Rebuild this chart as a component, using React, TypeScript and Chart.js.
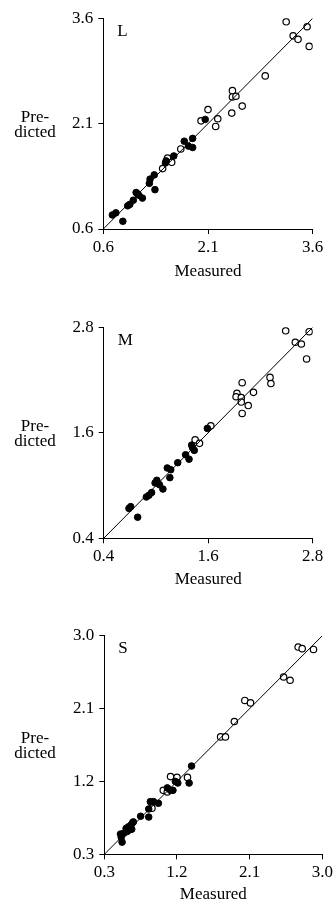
import React, { useEffect, useRef } from "react";
import { Chart, registerables } from "chart.js";

Chart.register(...registerables);

// ---------- Data ----------
// Panel L
const L_TICKS = [0.6, 2.1, 3.6];
const L_OPEN_MEASURED = [3.22, 3.32, 3.39, 3.52, 3.55, 2.92, 2.45, 2.45, 2.5, 2.59, 2.44, 2.1, 2.24, 2.21, 2.0, 1.71, 1.52, 1.58, 1.45];
const L_OPEN_PREDICTED = [3.55, 3.35, 3.3, 3.48, 3.2, 2.78, 2.57, 2.48, 2.49, 2.35, 2.25, 2.3, 2.17, 2.06, 2.14, 1.74, 1.61, 1.55, 1.46];
const L_FILLED_MEASURED = [2.06, 1.88, 1.76, 1.82, 1.88, 1.61, 1.49, 1.5, 1.33, 1.27, 1.26, 1.34, 1.07, 1.11, 1.16, 1.03, 1.09, 0.98, 0.95, 0.78, 0.73, 0.88];
const L_FILLED_PREDICTED = [2.16, 1.89, 1.85, 1.78, 1.76, 1.64, 1.54, 1.57, 1.37, 1.31, 1.25, 1.16, 1.12, 1.08, 1.04, 1.01, 1.1, 0.95, 0.93, 0.83, 0.8, 0.71];

// Panel M
const M_TICKS = [0.4, 1.6, 2.8];
const M_OPEN_MEASURED = [2.49, 2.6, 2.67, 2.76, 2.73, 2.31, 2.32, 1.99, 2.12, 1.93, 1.92, 1.98, 1.98, 2.06, 1.99, 1.63, 1.45, 1.5];
const M_OPEN_PREDICTED = [2.76, 2.63, 2.61, 2.75, 2.44, 2.23, 2.16, 2.17, 2.06, 2.05, 2.01, 2.0, 1.95, 1.91, 1.82, 1.68, 1.52, 1.48];
const M_FILLED_MEASURED = [1.59, 1.41, 1.42, 1.44, 1.34, 1.38, 1.25, 1.13, 1.17, 1.16, 1.01, 0.99, 1.04, 1.08, 0.95, 0.92, 0.89, 0.71, 0.69, 0.79];
const M_FILLED_PREDICTED = [1.65, 1.46, 1.43, 1.4, 1.35, 1.3, 1.26, 1.2, 1.18, 1.09, 1.06, 1.03, 1.01, 0.96, 0.92, 0.89, 0.87, 0.76, 0.74, 0.64];

// Panel S
const S_TICKS = [0.3, 1.2, 2.1, 3.0];
const S_OPEN_MEASURED = [2.7, 2.75, 2.89, 2.52, 2.6, 2.04, 2.11, 1.91, 1.74, 1.8, 1.12, 1.2, 1.33, 1.03, 1.08, 0.89];
const S_OPEN_PREDICTED = [2.86, 2.84, 2.83, 2.49, 2.45, 2.2, 2.17, 1.94, 1.75, 1.75, 1.26, 1.25, 1.25, 1.09, 1.07, 0.87];
const S_FILLED_MEASURED = [1.38, 1.35, 1.21, 1.18, 1.08, 1.12, 1.15, 0.97, 0.87, 0.91, 0.85, 0.85, 0.75, 0.65, 0.63, 0.6, 0.64, 0.61, 0.57, 0.54, 0.5, 0.51, 0.52, 0.58, 0.66];
const S_FILLED_PREDICTED = [1.39, 1.18, 1.18, 1.2, 1.12, 1.09, 1.09, 0.93, 0.95, 0.95, 0.86, 0.76, 0.77, 0.69, 0.66, 0.64, 0.61, 0.6, 0.62, 0.56, 0.55, 0.51, 0.45, 0.58, 0.7];

const PANEL_LABELS = ["L", "M", "S"];
const X_TITLE = "Measured";
const Y_TITLE = ["Pre-", "dicted"];

// ---------- Styling / layout ----------
const FONT = "'Liberation Serif', 'Times New Roman', serif";
const FONT_SIZE = 17;

type Panel = {
  label: string;
  ticks: number[];
  openX: number[];
  openY: number[];
  filledX: number[];
  filledY: number[];
  top: number;
  height: number;
  areaLeft: number;
  areaRight: number;
  areaTop: number;
  areaBottom: number;
  titleCenter: number;
};

const zip = (xs: number[], ys: number[]) => xs.map((x, i) => ({ x, y: ys[i] }));

const PANELS: Panel[] = [
  { label: PANEL_LABELS[0], ticks: L_TICKS, openX: L_OPEN_MEASURED, openY: L_OPEN_PREDICTED, filledX: L_FILLED_MEASURED, filledY: L_FILLED_PREDICTED,
    top: 0, height: 300, areaLeft: 103.3, areaRight: 312.7, areaTop: 18.3, areaBottom: 229, titleCenter: 272 },
  { label: PANEL_LABELS[1], ticks: M_TICKS, openX: M_OPEN_MEASURED, openY: M_OPEN_PREDICTED, filledX: M_FILLED_MEASURED, filledY: M_FILLED_PREDICTED,
    top: 300, height: 300, areaLeft: 103.7, areaRight: 312.7, areaTop: 27.3, areaBottom: 238.3, titleCenter: 280 },
  { label: PANEL_LABELS[2], ticks: S_TICKS, openX: S_OPEN_MEASURED, openY: S_OPEN_PREDICTED, filledX: S_FILLED_MEASURED, filledY: S_FILLED_PREDICTED,
    top: 600, height: 305, areaLeft: 104.3, areaRight: 322.7, areaTop: 35.7, areaBottom: 254.3, titleCenter: 299 },
];

const textPlugin = {
  id: "panelText",
  afterDraw(chart: any, _args: any, opts: any) {
    const { ctx, chartArea } = chart;
    ctx.save();
    ctx.fillStyle = "#000";
    ctx.font = `${FONT_SIZE}px ${FONT}`;
    ctx.textAlign = "center";
    ctx.textBaseline = "middle";
    const mid = (chartArea.top + chartArea.bottom) / 2 + 1.5;
    ctx.fillText(Y_TITLE[0], 35, mid - 7.5);
    ctx.fillText(Y_TITLE[1], 35, mid + 7.5);
    ctx.textAlign = "left";
    ctx.fillText(opts.label, chartArea.left + 14, chartArea.top + 13);
    ctx.restore();
  },
};

function PanelChart({ p }: { p: Panel }) {
  const ref = useRef<HTMLCanvasElement | null>(null);
  useEffect(() => {
    if (!ref.current) return;
    const min = p.ticks[0];
    const max = p.ticks[p.ticks.length - 1];
    const lh = FONT_SIZE * 1.2;
    const xAxisHeight = p.height - p.areaBottom;
    const titlePad = Math.max(0, p.height - p.titleCenter - lh / 2);
    const axisCommon = (ticks: number[]) => ({
      type: "linear" as const,
      min,
      max,
      afterBuildTicks: (scale: any) => {
        scale.ticks = ticks.map((v) => ({ value: v }));
      },
      grid: {
        display: true,
        drawOnChartArea: false,
        drawTicks: true,
        tickLength: 5,
        color: "#000",
        lineWidth: 1,
      },
      border: { display: true, color: "#000", width: 1 },
      ticks: {
        autoSkip: false,
        maxRotation: 0,
        color: "#000",
        font: { family: FONT, size: FONT_SIZE },
        callback: (v: any) => Number(v).toFixed(1),
      },
    });
    const xAxis: any = axisCommon(p.ticks);
    xAxis.ticks.padding = 3;
    xAxis.title = {
      display: true,
      text: X_TITLE,
      color: "#000",
      font: { family: FONT, size: FONT_SIZE },
      padding: { top: 0, bottom: titlePad },
    };
    xAxis.afterFit = (s: any) => {
      s.height = xAxisHeight;
    };
    const yAxis: any = axisCommon(p.ticks);
    yAxis.ticks.padding = 5;
    yAxis.afterFit = (s: any) => {
      s.width = p.areaLeft;
    };

    const chart = new Chart(ref.current, {
      type: "scatter",
      data: {
        datasets: [
          {
            data: [{ x: min, y: min }, { x: max, y: max }],
            showLine: true,
            borderColor: "#000",
            borderWidth: 1,
            pointRadius: 0,
            fill: false,
          } as any,
          {
            data: zip(p.filledX, p.filledY),
            pointRadius: 3.3,
            pointBackgroundColor: "#000",
            pointBorderColor: "#000",
            pointBorderWidth: 1,
          },
          {
            data: zip(p.openX, p.openY),
            pointRadius: 3.2,
            pointBackgroundColor: "#fff",
            pointBorderColor: "#000",
            pointBorderWidth: 1.2,
          },
        ],
      },
      options: {
        responsive: false,
        animation: false,
        layout: {
          padding: { left: 0, right: 336 - p.areaRight, top: p.areaTop, bottom: 0 },
        },
        scales: { x: xAxis, y: yAxis },
        plugins: {
          legend: { display: false },
          tooltip: { enabled: false },
          panelText: { label: p.label },
        } as any,
      },
      plugins: [textPlugin],
    });
    return () => chart.destroy();
  }, [p]);
  return (
    <canvas
      ref={ref}
      width={336}
      height={p.height}
      style={{ position: "absolute", left: 0, top: p.top, width: 336, height: p.height }}
    />
  );
}

export default function App() {
  return (
    <div style={{ position: "absolute", left: 0, top: 0, width: 336, height: 905, background: "#fff" }}>
      {PANELS.map((p, i) => (
        <PanelChart key={i} p={p} />
      ))}
    </div>
  );
}
